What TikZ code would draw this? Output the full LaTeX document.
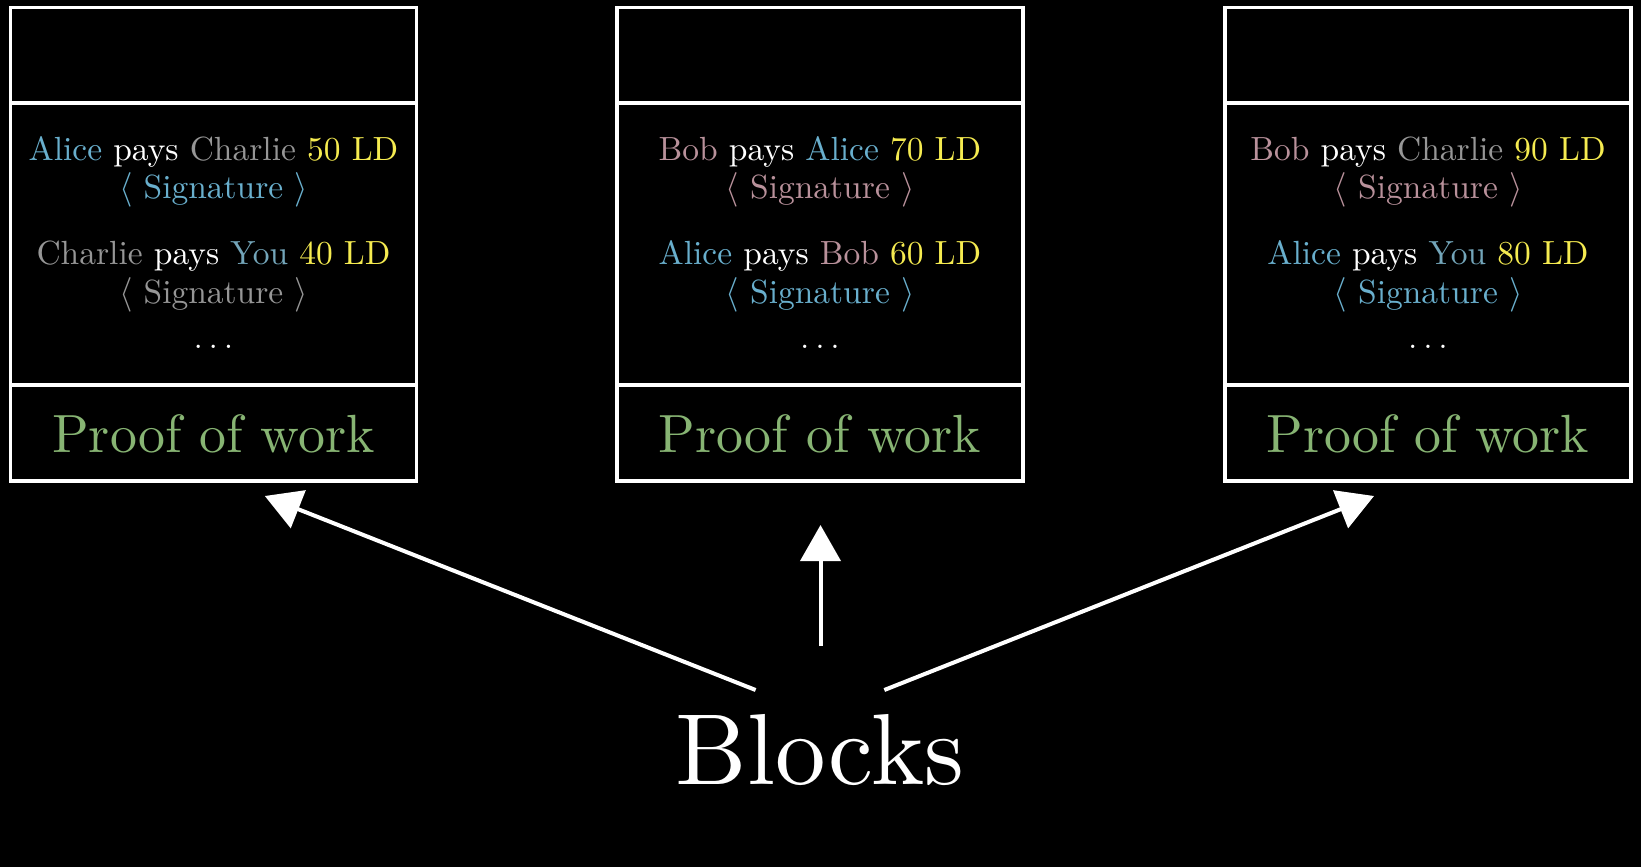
\documentclass[tikz,border=0pt]{standalone}
\usepackage{fontspec}
\setmainfont{lmroman10-regular.otf}
\usetikzlibrary{arrows.meta}
\definecolor{alicec}{RGB}{105,175,205}
\definecolor{charliec}{RGB}{150,150,150}
\definecolor{youc}{RGB}{115,165,185}
\definecolor{bobc}{RGB}{185,145,155}
\definecolor{ldc}{RGB}{245,235,80}
\definecolor{powc}{RGB}{135,180,115}
\begin{document}
\begin{tikzpicture}[x=0.5pt,y=-0.5pt,
  part/.style={draw=white,line width=1.75pt,minimum width=203pt,inner sep=0pt,outer sep=0pt,anchor=north},
  tx/.style={text=white,anchor=base,inner sep=0pt,font=\fontsize{16.75}{21}\selectfont},
  pow/.style={text=powc,anchor=base,inner sep=0pt,font=\fontsize{26.9}{34}\selectfont},
  arr/.style={draw=white,line width=2pt,-{Triangle[length=18pt,width=20pt]}}]
\fill[black] (0,0) rectangle (1641,867);
\useasboundingbox (0,0) rectangle (1641,867);
% block 1
\node[part,minimum height=47.65pt] (t1) at (213.5,7.7) {};
\node[part,minimum height=141pt] (m1) at (213.5,103) {};
\node[part,minimum height=48pt] (b1) at (213.5,385) {};
\node[tx] (a1) at (213.5,160.7) {\textcolor{alicec}{Alice} pays \textcolor{charliec}{Charlie} \textcolor{ldc}{50 LD}};
\node[tx,text=alicec] (s1) at (213.5,198) {$\langle$ Signature $\rangle$};
\node[tx] (c1) at (213.5,264) {\textcolor{charliec}{Charlie} pays \textcolor{youc}{You} \textcolor{ldc}{40 LD}};
\node[tx,text=charliec] (r1) at (213.5,303) {$\langle$ Signature $\rangle$};
\node[tx] (d1) at (213.5,348) {$\dots$};
\node[pow] (p1) at (213.5,452) {Proof of work};
% block 2
\node[part,minimum height=47.65pt] (t2) at (820,7.7) {};
\node[part,minimum height=141pt] (m2) at (820,103) {};
\node[part,minimum height=48pt] (b2) at (820,385) {};
\node[tx] (a2) at (820,160.7) {\textcolor{bobc}{Bob} pays \textcolor{alicec}{Alice} \textcolor{ldc}{70 LD}};
\node[tx,text=bobc] (s2) at (820,198) {$\langle$ Signature $\rangle$};
\node[tx] (c2) at (820,264) {\textcolor{alicec}{Alice} pays \textcolor{bobc}{Bob} \textcolor{ldc}{60 LD}};
\node[tx,text=alicec] (r2) at (820,303) {$\langle$ Signature $\rangle$};
\node[tx] (d2) at (820,348) {$\dots$};
\node[pow] (p2) at (820,452) {Proof of work};
% block 3
\node[part,minimum height=47.65pt] (t3) at (1428,7.7) {};
\node[part,minimum height=141pt] (m3) at (1428,103) {};
\node[part,minimum height=48pt] (b3) at (1428,385) {};
\node[tx] (a3) at (1428,160.7) {\textcolor{bobc}{Bob} pays \textcolor{charliec}{Charlie} \textcolor{ldc}{90 LD}};
\node[tx,text=bobc] (s3) at (1428,198) {$\langle$ Signature $\rangle$};
\node[tx] (c3) at (1428,264) {\textcolor{alicec}{Alice} pays \textcolor{youc}{You} \textcolor{ldc}{80 LD}};
\node[tx,text=alicec] (r3) at (1428,303) {$\langle$ Signature $\rangle$};
\node[tx] (d3) at (1428,348) {$\dots$};
\node[pow] (p3) at (1428,452) {Proof of work};
% label
\node[text=white,anchor=base,inner sep=0pt,font=\fontsize{50.5}{60}\selectfont] (blk) at (820,784) {Blocks};
\coordinate (sL) at (755.6,690);
\coordinate (sM) at (820.5,646);
\coordinate (sR) at (884.3,690);
\coordinate (eL) at (264.8,496);
\coordinate (eM) at (820.5,525);
\coordinate (eR) at (1374,496);
\draw[arr] (sL) -- (eL);
\draw[arr] (sM) -- (eM);
\draw[arr] (sR) -- (eR);
\end{tikzpicture}
\end{document}
